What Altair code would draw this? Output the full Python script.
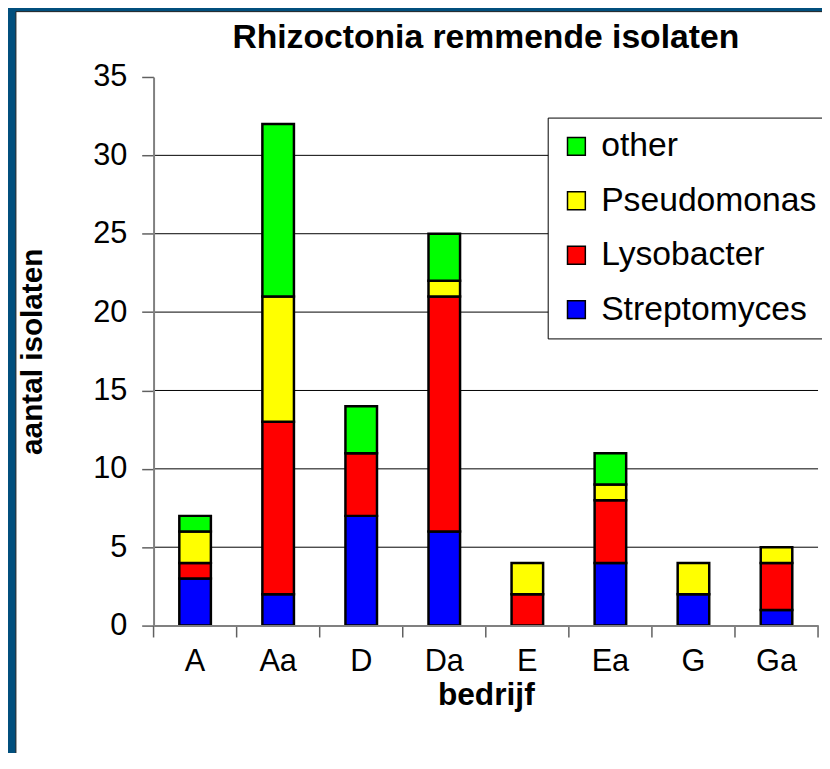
import altair as alt
import pandas as pd

categories = ["A", "Aa", "D", "Da", "E", "Ea", "G", "Ga"]
series = ["other", "Pseudomonas", "Lysobacter", "Streptomyces"]
colors = ["#00FF00", "#FFFF00", "#FF0000", "#0000FF"]
stack_rank = {"Streptomyces": 0, "Lysobacter": 1, "Pseudomonas": 2, "other": 3}

streptomyces = [3, 2, 7, 6, 0, 4, 2, 1]
lysobacter = [1, 11, 4, 15, 2, 4, 0, 3]
pseudomonas = [2, 8, 0, 1, 2, 1, 2, 1]
other = [1, 11, 3, 3, 0, 2, 0, 0]

y_ticks = [0, 5, 10, 15, 20, 25, 30, 35]
gridlines = [5, 10, 15, 20, 25, 30]

rows = []
for name, vals in [("Streptomyces", streptomyces), ("Lysobacter", lysobacter),
                   ("Pseudomonas", pseudomonas), ("other", other)]:
    for c, v in zip(categories, vals):
        if v > 0:
            rows.append({"bedrijf": c, "series": name, "value": v, "rank": stack_rank[name]})
df = pd.DataFrame(rows)

FONT = "Liberation Sans, Arial, sans-serif"
W, H = 671, 554
P_IN, P_OUT = 0.62, 0.31
GAP = P_OUT * W / 8  # half of the gap between two bars

x_scale = alt.Scale(domain=categories, paddingInner=P_IN, paddingOuter=P_OUT)
y_scale = alt.Scale(domain=[0, 35], nice=False)

x_axis = alt.Axis(title="bedrijf", labelAngle=0, labelAlign="center",
                  ticks=False, tickSize=0, zindex=1,
                  labelFont=FONT, labelFontSize=31, labelColor="black",
                  labelPadding=21, domainColor="#808080", domainWidth=2,
                  titleFont=FONT, titleFontSize=32, titleFontWeight="bold",
                  titleColor="black", titlePadding=4)
y_axis = alt.Axis(title="aantal isolaten", values=y_ticks, grid=False,
                  zindex=1,
                  tickSize=12, tickColor="#606060", tickWidth=1.5,
                  labelFont=FONT, labelFontSize=31, labelColor="black",
                  labelPadding=15, domainColor="#808080", domainWidth=2,
                  titleFont=FONT, titleFontSize=30, titleFontWeight="bold",
                  titleColor="black", titlePadding=46)

# white panel behind the chart
panel = alt.Chart(pd.DataFrame({"a": [0]})).mark_rect(
    fill="white", stroke="#222222", strokeWidth=1
).encode(
    x=alt.value(-139), x2=alt.value(W + 10),
    y=alt.value(-66), y2=alt.value(H + 200)
)

grid = alt.Chart(pd.DataFrame({"g": gridlines})).mark_rule(
    color="black", strokeWidth=1
).encode(y=alt.Y("g:Q", scale=y_scale, axis=y_axis))

tick_df = pd.DataFrame({"bedrijf": categories})
xticks = alt.Chart(tick_df).mark_rule(color="#606060", strokeWidth=1.5, xOffset=-GAP).encode(
    x=alt.X("bedrijf:N", scale=x_scale, bandPosition=0, axis=x_axis),
    y=alt.value(H), y2=alt.value(H + 12)
)
xtick_end = alt.Chart(pd.DataFrame({"bedrijf": [categories[-1]]})).mark_rule(
    color="#606060", strokeWidth=1.5, xOffset=GAP
).encode(
    x=alt.X("bedrijf:N", scale=x_scale, bandPosition=1, axis=x_axis),
    y=alt.value(H), y2=alt.value(H + 12)
)

bars = alt.Chart(df).mark_bar(stroke="black", strokeWidth=2.5).encode(
    x=alt.X("bedrijf:N", scale=x_scale, sort=categories, axis=x_axis),
    y=alt.Y("value:Q", scale=y_scale, stack="zero", axis=y_axis),
    color=alt.Color("series:N", scale=alt.Scale(domain=series, range=colors),
                    legend=alt.Legend(title=None, orient="none", legendX=398, legendY=41,
                                      fillColor="white", strokeColor="black",
                                      padding=12, symbolType="square", symbolSize=324,
                                      symbolStrokeColor="black", symbolStrokeWidth=1.5,
                                      labelFont=FONT, labelFontSize=34, labelColor="black",
                                      labelLimit=400,
                                      labelOffset=8, rowPadding=21)),
    order=alt.Order("rank:Q", sort="ascending")
)

chart = alt.layer(panel, grid, xticks, xtick_end, bars).properties(
    width=W, height=H,
    background="#014F7D",
    padding={"left": 147, "top": 66, "right": 4, "bottom": 125},
    autosize=alt.AutoSizeParams(type="none"),
    title=alt.TitleParams("Rhizoctonia remmende isolaten", font=FONT, fontSize=34,
                          fontWeight="bold", color="black", anchor="middle",
                          frame="group", offset=0, baseline="alphabetic", dy=71)
).configure_view(stroke="#808080", strokeWidth=2)

chart.save("out.html", embed_options={"renderer": "svg", "actions": False})
